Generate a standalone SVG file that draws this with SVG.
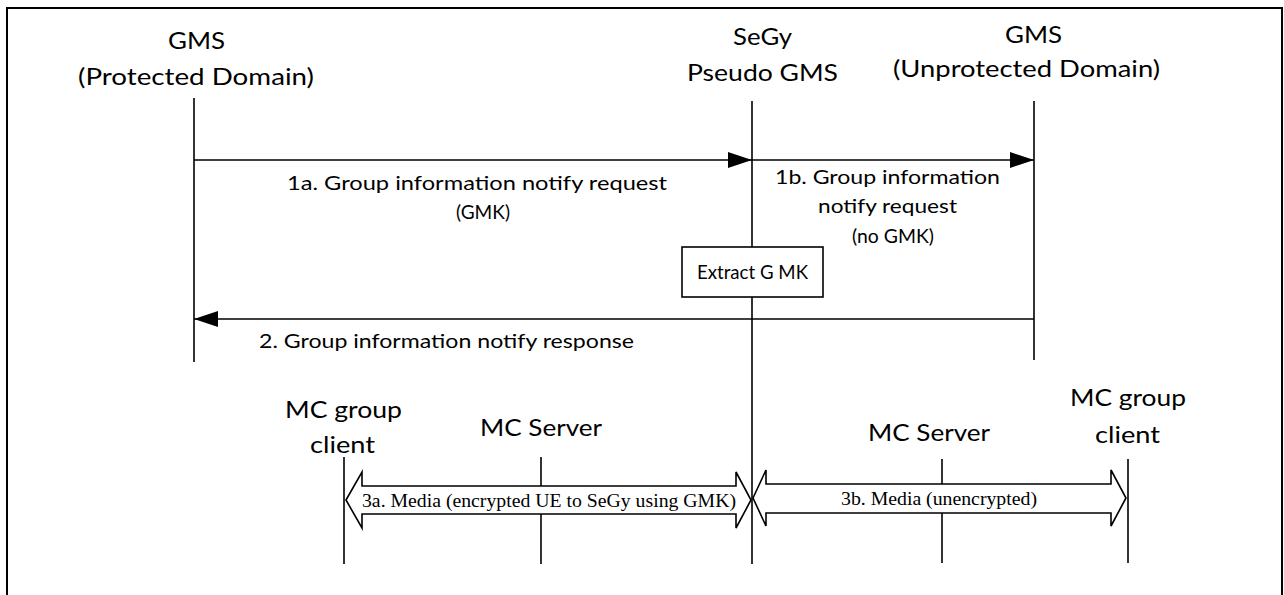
<svg xmlns="http://www.w3.org/2000/svg" width="1284" height="595" viewBox="0 0 1284 595">
<style>
.lbl{font-family:Lato,"Open Sans","Liberation Sans",sans-serif;fill:#000}
.hd{font-size:24px}
.ar{font-size:20px}
.mc{font-size:23px}
.ser{font-family:"Liberation Serif","Times New Roman",serif;font-size:19px;fill:#000}
.life{stroke:#000;stroke-width:1.6;fill:none}
.msg{stroke:#000;stroke-width:1.6;fill:none}
.blk{fill:#fff;stroke:#000;stroke-width:1.6;stroke-linejoin:miter}
</style>
<defs>
<marker id="ah" markerWidth="24" markerHeight="16" refX="24" refY="8" orient="auto" markerUnits="userSpaceOnUse">
<path d="M0,0 L24,8 L0,16 Z" fill="#000"/>
</marker>
</defs>
<rect x="0" y="0" width="1284" height="595" fill="#fff"/>
<rect x="7" y="8" width="1275" height="600" fill="none" stroke="#000" stroke-width="2"/>

<g id="gms-protected">
<text class="lbl hd" x="168" y="49" textLength="57" lengthAdjust="spacingAndGlyphs">GMS</text>
<text class="lbl hd" x="78" y="85" textLength="236" lengthAdjust="spacingAndGlyphs">(Protected Domain)</text>
<line class="life" x1="194" y1="98" x2="194" y2="362"/>
</g>
<g id="segy">
<text class="lbl hd" x="733" y="45" textLength="59" lengthAdjust="spacingAndGlyphs">SeGy</text>
<text class="lbl hd" x="687" y="81" textLength="151" lengthAdjust="spacingAndGlyphs">Pseudo GMS</text>
<line class="life" x1="752" y1="101" x2="752" y2="564"/>
</g>
<g id="gms-unprotected">
<text class="lbl hd" x="1005" y="43" textLength="57" lengthAdjust="spacingAndGlyphs">GMS</text>
<text class="lbl hd" x="893" y="77" textLength="267" lengthAdjust="spacingAndGlyphs">(Unprotected Domain)</text>
<line class="life" x1="1034" y1="101" x2="1034" y2="360"/>
</g>
<g id="mc-client-left">
<text class="lbl mc" x="285" y="418" textLength="117" lengthAdjust="spacingAndGlyphs">MC group</text>
<text class="lbl mc" x="310" y="453" textLength="65" lengthAdjust="spacingAndGlyphs">client</text>
<line class="life" x1="344" y1="457" x2="344" y2="564"/>
</g>
<g id="mc-server-left">
<text class="lbl mc" x="480" y="436" textLength="122" lengthAdjust="spacingAndGlyphs">MC Server</text>
<line class="life" x1="541" y1="457" x2="541" y2="564"/>
</g>
<g id="mc-server-right">
<text class="lbl mc" x="868" y="441" textLength="122" lengthAdjust="spacingAndGlyphs">MC Server</text>
<line class="life" x1="942" y1="459" x2="942" y2="563"/>
</g>
<g id="mc-client-right">
<text class="lbl mc" x="1070" y="406" textLength="116" lengthAdjust="spacingAndGlyphs">MC group</text>
<text class="lbl mc" x="1095" y="443" textLength="65" lengthAdjust="spacingAndGlyphs">client</text>
<line class="life" x1="1128" y1="459" x2="1128" y2="563"/>
</g>
<g id="extract-gmk">
<rect x="682" y="247" width="141" height="50" fill="#fff" stroke="#000" stroke-width="1.6"/>
<text class="lbl ar" x="697" y="279" textLength="111" lengthAdjust="spacingAndGlyphs">Extract G MK</text>
</g>

<g id="connectors">
<line class="msg" x1="194" y1="160" x2="752" y2="160" marker-end="url(#ah)"/>
<text class="lbl ar" x="287" y="190" textLength="380" lengthAdjust="spacingAndGlyphs">1a. Group information notify request</text>
<text class="lbl ar" x="456" y="219" textLength="54" lengthAdjust="spacingAndGlyphs">(GMK)</text>
<line class="msg" x1="752" y1="160" x2="1034" y2="160" marker-end="url(#ah)"/>
<text class="lbl ar" x="775" y="184" textLength="225" lengthAdjust="spacingAndGlyphs">1b. Group information</text>
<text class="lbl ar" x="818" y="213" textLength="139" lengthAdjust="spacingAndGlyphs">notify request</text>
<text class="lbl ar" x="852" y="243" textLength="82" lengthAdjust="spacingAndGlyphs">(no GMK)</text>
<line class="msg" x1="1034" y1="319" x2="194" y2="319" marker-end="url(#ah)"/>
<text class="lbl ar" x="259" y="348" textLength="375" lengthAdjust="spacingAndGlyphs">2. Group information notify response</text>
<polygon class="blk" points="346,500 362,472 362,486 736,486 736,472 751,500 736,528 736,514 362,514 362,528"/>
<text class="ser" x="362" y="507" textLength="374" lengthAdjust="spacingAndGlyphs">3a. Media (encrypted UE to SeGy using GMK)</text>
<polygon class="blk" points="753,498 766,470 766,484 1111,484 1111,470 1126,498 1111,526 1111,513 766,513 766,526"/>
<text class="ser" x="841" y="505" textLength="196" lengthAdjust="spacingAndGlyphs">3b. Media (unencrypted)</text>
</g>
</svg>
